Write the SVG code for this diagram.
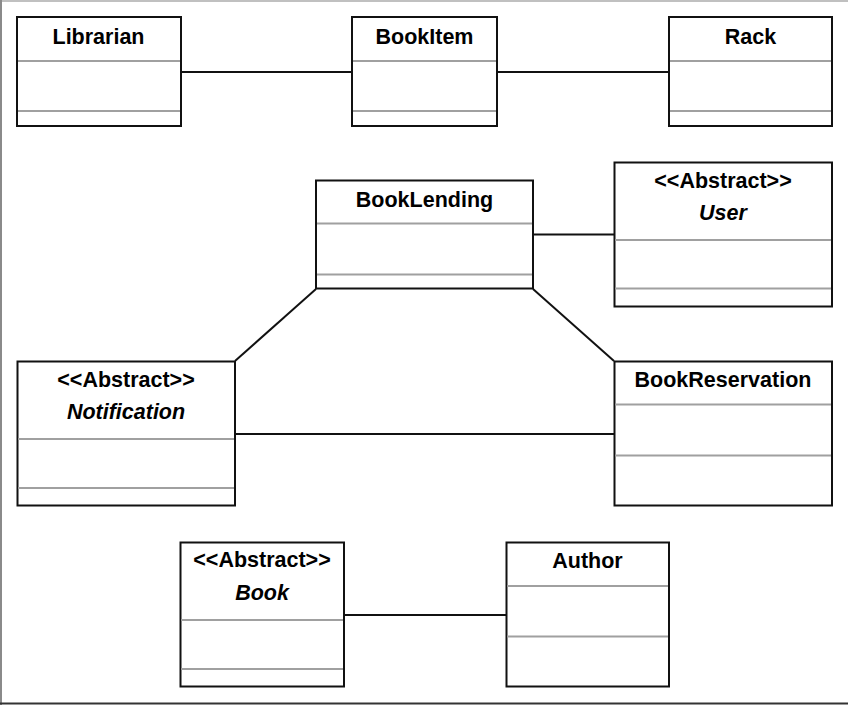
<svg xmlns="http://www.w3.org/2000/svg" width="848" height="705" viewBox="0 0 848 705">
  <style>
    .box { fill: #ffffff; stroke: #111111; stroke-width: 2; }
    .sep { stroke: #a0a0a0; stroke-width: 2; }
    .link { stroke: #111111; stroke-width: 2; fill: none; }
    .name { font-family: "Liberation Sans", Arial, sans-serif; font-size: 21.5px; font-weight: bold; text-anchor: middle; fill: #000000; }
    .abs { font-style: italic; }
  </style>
  <rect x="0" y="0" width="848" height="705" fill="#ffffff"/>
  <!-- frame -->
  <line x1="0" y1="1" x2="848" y2="1" stroke="#c0c0c0" stroke-width="2"/>
  <line x1="1" y1="0" x2="1" y2="705" stroke="#8a8a8a" stroke-width="2"/>
  <line x1="0" y1="703.5" x2="848" y2="703.5" stroke="#333333" stroke-width="2"/>

  <g id="connectors">
    <line class="link" x1="181" y1="72" x2="352" y2="72"/>
    <line class="link" x1="497" y1="72" x2="669" y2="72"/>
    <line class="link" x1="533" y1="234.5" x2="614" y2="234.5"/>
    <line class="link" x1="316" y1="289" x2="235" y2="361"/>
    <line class="link" x1="533" y1="289" x2="614" y2="361"/>
    <line class="link" x1="235" y1="434" x2="614" y2="434"/>
    <line class="link" x1="344" y1="615" x2="506" y2="615"/>
  </g>

  <g id="librarian">
    <rect class="box" x="17" y="17" width="164" height="109"/>
    <line class="sep" x1="18" y1="61" x2="180" y2="61"/>
    <line class="sep" x1="18" y1="111" x2="180" y2="111"/>
    <text class="name" x="98.5" y="44">Librarian</text>
  </g>

  <g id="bookitem">
    <rect class="box" x="352" y="17" width="145" height="109"/>
    <line class="sep" x1="353" y1="61" x2="496" y2="61"/>
    <line class="sep" x1="353" y1="111" x2="496" y2="111"/>
    <text class="name" x="424.5" y="44">BookItem</text>
  </g>

  <g id="rack">
    <rect class="box" x="669" y="17" width="163" height="109"/>
    <line class="sep" x1="670" y1="61" x2="831" y2="61"/>
    <line class="sep" x1="670" y1="111" x2="831" y2="111"/>
    <text class="name" x="750.5" y="44">Rack</text>
  </g>

  <g id="booklending">
    <rect class="box" x="316" y="180.5" width="217" height="108"/>
    <line class="sep" x1="317" y1="223.5" x2="532" y2="223.5"/>
    <line class="sep" x1="317" y1="274.5" x2="532" y2="274.5"/>
    <text class="name" x="424.5" y="207">BookLending</text>
  </g>

  <g id="user">
    <rect class="box" x="614.5" y="162.5" width="217.5" height="144"/>
    <line class="sep" x1="615" y1="240" x2="831" y2="240"/>
    <line class="sep" x1="615" y1="288.5" x2="831" y2="288.5"/>
    <text class="name" x="723" y="188">&lt;&lt;Abstract&gt;&gt;</text>
    <text class="name abs" x="723" y="220">User</text>
  </g>

  <g id="notification">
    <rect class="box" x="17.5" y="361.5" width="217.5" height="144"/>
    <line class="sep" x1="18" y1="439" x2="234" y2="439"/>
    <line class="sep" x1="18" y1="488" x2="234" y2="488"/>
    <text class="name" x="126" y="387">&lt;&lt;Abstract&gt;&gt;</text>
    <text class="name abs" x="126" y="419">Notification</text>
  </g>

  <g id="bookreservation">
    <rect class="box" x="614.5" y="361.5" width="217.5" height="144"/>
    <line class="sep" x1="615" y1="404.5" x2="831" y2="404.5"/>
    <line class="sep" x1="615" y1="455.5" x2="831" y2="455.5"/>
    <text class="name" x="723" y="387">BookReservation</text>
  </g>

  <g id="book">
    <rect class="box" x="180.5" y="542.5" width="163.5" height="144"/>
    <line class="sep" x1="181" y1="620" x2="343" y2="620"/>
    <line class="sep" x1="181" y1="669" x2="343" y2="669"/>
    <text class="name" x="262" y="567">&lt;&lt;Abstract&gt;&gt;</text>
    <text class="name abs" x="262" y="600">Book</text>
  </g>

  <g id="author">
    <rect class="box" x="506.5" y="542.5" width="162.5" height="144"/>
    <line class="sep" x1="507" y1="586" x2="668" y2="586"/>
    <line class="sep" x1="507" y1="636.5" x2="668" y2="636.5"/>
    <text class="name" x="587.5" y="568">Author</text>
  </g>
</svg>
